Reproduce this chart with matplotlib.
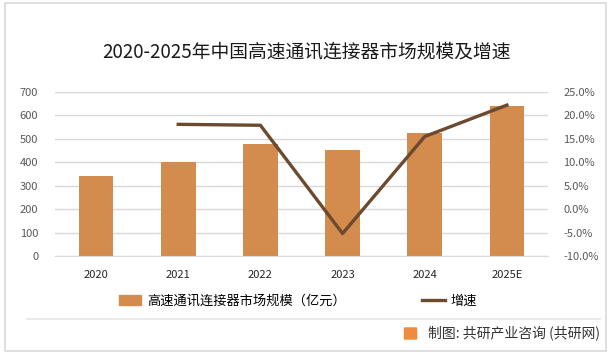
import matplotlib.pyplot as plt
from matplotlib.patches import Rectangle, FancyBboxPatch
from matplotlib.lines import Line2D
import numpy as np

plt.rcParams['font.family'] = ['Noto Sans CJK SC', 'DejaVu Sans']

years = ['2020', '2021', '2022', '2023', '2024', '2025E']
market = [342, 401, 478, 452, 525, 640]          # 亿元
growth = [np.nan, 18.1, 17.9, -5.2, 15.5, 22.2]  # %

bar_color = '#D38B4E'
line_color = '#6B4A2F'
grid_color = '#D9D9D9'

fig = plt.figure(figsize=(6.12, 3.58), dpi=100)
fig.patch.set_facecolor('white')

# outer frame and separator line
fig.add_artist(Rectangle((5/612, 1-351/358), 601/612, 348/358, transform=fig.transFigure,
                         fill=False, edgecolor='#D9D9D9', linewidth=1.2))
fig.add_artist(Line2D([27/612, 600/612], [1-319/358, 1-319/358], transform=fig.transFigure,
                      color='#E6E6E6', linewidth=1.2))

ax = fig.add_axes([55/612, 1-256/358, 493/612, 164/358])
x = np.arange(len(years))
ax.bar(x, market, width=0.42, color=bar_color, zorder=2)
ax.set_xlim(-0.5, len(years)-0.5)
ax.set_ylim(0, 700)
ax.set_yticks(range(0, 701, 100))
ax.set_xticks(x)
ax.set_xticklabels(years)
ax.yaxis.grid(True, color=grid_color, linewidth=1, zorder=0)
ax.set_axisbelow(True)
for s in ['top', 'left', 'right']:
    ax.spines[s].set_visible(False)
ax.spines['bottom'].set_color(grid_color)
ax.tick_params(axis='y', length=0, pad=12, labelsize=8, labelcolor='#595959')
ax.tick_params(axis='x', length=0, pad=10, labelsize=8, labelcolor='#262626')

ax2 = ax.twinx()
ax2.plot(x, growth, color=line_color, linewidth=2.4, zorder=3)
ax2.set_ylim(-10, 25)
ax2.set_yticks(range(-10, 26, 5))
ax2.set_yticklabels([f'{v:.1f}%' for v in range(-10, 26, 5)])
for s in ['top', 'left', 'right', 'bottom']:
    ax2.spines[s].set_visible(False)
ax2.tick_params(axis='y', length=0, pad=11, labelsize=8, labelcolor='#595959')

fig.text(306/612, 1-52/358, '2020-2025年中国高速通讯连接器市场规模及增速',
         ha='center', va='center', fontsize=13.5, color='#1a1a1a')

# legend
h1 = Rectangle((0, 0), 1, 1, color=bar_color)
h2 = Line2D([0], [0], color=line_color, linewidth=2.4)
fig.legend([h1, h2], ['高速通讯连接器市场规模（亿元）', '增速'],
           loc='center', bbox_to_anchor=(298/612, 1-301/358), ncol=2, frameon=False,
           fontsize=9.5, columnspacing=5.8, handlelength=1.7, handletextpad=0.45)

# attribution
fig.add_artist(FancyBboxPatch((405/612, 1-339/358), 11/612, 11/358, transform=fig.transFigure,
                              boxstyle='round,pad=0.002', facecolor='#F08A3C', edgecolor='none'))
fig.text(428/612, 1-333/358, '制图: 共研产业咨询 (共研网)',
         ha='left', va='center', fontsize=10, color='#333333')

fig.savefig('out.png', dpi=100)
